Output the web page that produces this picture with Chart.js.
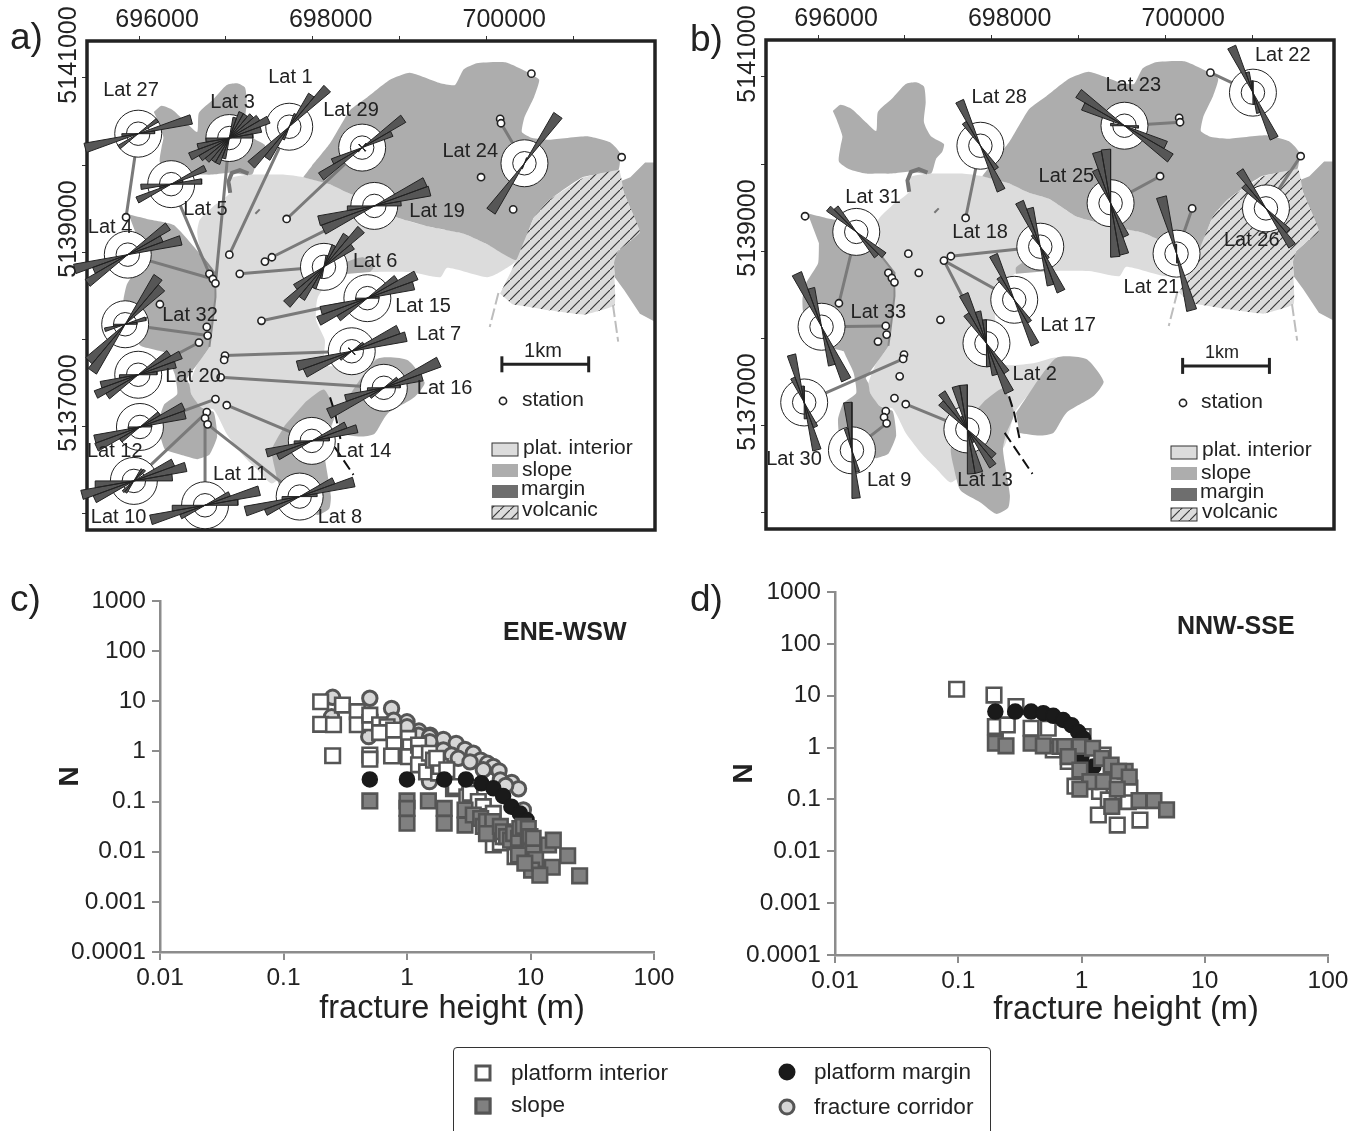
<!DOCTYPE html>
<html>
<head>
<meta charset="utf-8">
<title>fracture maps</title>
<script src="https://cdn.jsdelivr.net/npm/chart.js@4/dist/chart.umd.js"></script>
<style>
  body { margin: 0; background: #fff; width: 1365px; height: 1131px; overflow: hidden; position: relative;
    font-family: "Liberation Sans", Arial, sans-serif; color: #222; }
  canvas { position: absolute; }
  .txt { position: absolute; white-space: nowrap; line-height: 1; transform: translateY(-50%); }
  .panel { font-size: 37px; }
  .sub { font-size: 25px; font-weight: bold; }
  .xtitle { font-size: 32.5px; transform: translate(-50%, -50%); }
  #key { position: absolute; left: 453px; top: 1047px; width: 538px; height: 100px; border: 1px solid #333; border-radius: 4px; box-sizing: border-box; }
  .mk { position: absolute; box-sizing: border-box; width: 17px; height: 17px; border: 3px solid #555; transform: translate(-50%, -50%); }
  .keytxt { font-size: 22.6px; }
</style>
</head>
<body>
<canvas id="map-a" width="680" height="560" style="left:0;top:0"></canvas>
<canvas id="map-b" width="680" height="560" style="left:680px;top:0"></canvas>
<canvas id="plot-c" width="680" height="470" style="left:0;top:580px"></canvas>
<canvas id="plot-d" width="680" height="480" style="left:680px;top:570px"></canvas>

<div class="txt panel" style="left:10px;top:36px">a)</div>
<div class="txt panel" style="left:690px;top:38px">b)</div>
<div class="txt panel" style="left:10px;top:598px">c)</div>
<div class="txt panel" style="left:690px;top:598px">d)</div>
<div class="txt sub" style="left:503px;top:631px">ENE-WSW</div>
<div class="txt sub" style="left:1177px;top:625px">NNW-SSE</div>
<div class="txt xtitle" style="left:452px;top:1007px">fracture height (m)</div>
<div class="txt xtitle" style="left:1126px;top:1008px">fracture height (m)</div>

<div id="key"></div>
<div class="mk" style="left:483px;top:1073px;background:#fff"></div>
<div class="mk" style="left:483px;top:1106px;background:#808080"></div>
<div class="mk" style="left:787px;top:1072px;background:#1a1a1a;border-color:#1a1a1a;border-radius:50%"></div>
<div class="mk" style="left:787px;top:1107px;background:#d6d6d6;border-radius:50%"></div>
<div class="txt keytxt" style="left:511px;top:1073px">platform interior</div>
<div class="txt keytxt" style="left:511px;top:1105px">slope</div>
<div class="txt keytxt" style="left:814px;top:1072px">platform margin</div>
<div class="txt keytxt" style="left:814px;top:1107px">fracture corridor</div>

<script>
//map axes, km (labels are in metres)
const mapXMin = 695.40, mapXMax = 701.944, mapYMin = 5135.806, mapYMax = 5141.425;
const mapXTicks = [696, 697, 698, 699, 700, 701];
const mapXLabels = ['696000', '', '698000', '', '700000', ''];
const mapYTicks = [5136, 5137, 5138, 5139, 5140, 5141];
const mapYLabels = ['', '5137000', '', '5139000', '', '5141000'];

//map units [easting, northing]
const interiorArea = [[697.30,5139.89],[697.66,5139.89],[697.89,5139.86],[698.20,5139.78],[698.43,5139.67],[698.66,5139.60],[698.97,5139.40],[699.35,5139.29],[699.74,5139.21],[700.01,5139.09],[700.35,5138.91],[700.16,5138.77],[700.01,5138.71],[699.55,5138.82],[699.47,5138.71],[699.12,5138.77],[698.66,5138.77],[698.27,5138.74],[698.06,5138.48],[698.04,5138.22],[698.14,5137.99],[698.14,5137.70],[698.48,5137.71],[698.74,5137.77],[698.28,5137.17],[698.26,5137.14],[698.13,5136.73],[697.74,5136.50],[697.53,5136.34],[697.36,5136.50],[697.21,5136.65],[697.01,5136.91],[696.86,5137.19],[696.71,5137.22],[696.60,5137.37],[696.58,5137.48],[696.67,5137.71],[696.81,5137.91],[696.84,5138.14],[696.88,5138.48],[696.90,5138.71],[696.73,5138.94],[696.67,5139.22],[696.70,5139.37],[696.85,5139.52],[697.05,5139.68],[697.07,5139.85],[697.26,5139.89]];
const slopeNorthWest = [[696.17,5140.61],[696.26,5140.68],[696.39,5140.63],[696.55,5140.48],[696.67,5140.38],[696.69,5140.60],[696.85,5140.75],[697.01,5140.92],[697.13,5140.94],[697.22,5140.89],[697.24,5140.71],[697.22,5140.48],[697.30,5140.32],[697.45,5140.23],[697.43,5140.14],[697.36,5140.06],[697.30,5139.89],[697.05,5139.91],[696.85,5139.89],[696.70,5139.89],[696.55,5139.89],[696.36,5139.94],[696.24,5140.03],[696.26,5140.21],[696.28,5140.32],[696.21,5140.52]];
const slopeNorthEast = [[697.89,5139.86],[697.99,5139.99],[698.20,5140.25],[698.43,5140.63],[698.63,5140.78],[698.89,5140.98],[699.12,5141.06],[699.47,5140.94],[699.64,5140.92],[699.74,5141.10],[699.89,5141.17],[700.22,5141.18],[700.47,5141.07],[700.61,5140.98],[700.55,5140.78],[700.44,5140.55],[700.41,5140.38],[700.53,5140.31],[700.73,5140.29],[701.16,5140.33],[701.43,5140.26],[701.54,5140.14],[701.52,5139.94],[701.11,5139.86],[700.73,5139.60],[700.55,5139.40],[700.35,5138.91],[700.01,5139.09],[699.74,5139.21],[699.35,5139.29],[698.97,5139.40],[698.66,5139.60],[698.43,5139.67],[698.20,5139.78]];
const slopeWest = [[695.88,5139.43],[696.09,5139.38],[696.40,5139.31],[696.70,5138.98],[696.88,5138.75],[696.88,5138.48],[696.84,5138.14],[696.81,5137.91],[696.67,5137.71],[696.55,5137.54],[696.58,5137.48],[696.60,5137.37],[696.71,5137.22],[696.86,5137.16],[696.90,5136.88],[696.81,5136.67],[696.67,5136.62],[696.55,5136.65],[696.30,5136.73],[696.24,5136.91],[696.23,5137.07],[696.29,5137.25],[696.44,5137.37],[696.41,5137.60],[696.32,5137.79],[696.29,5137.85],[696.01,5137.93],[695.83,5138.29],[695.82,5138.45],[695.86,5138.63],[696.00,5138.86],[696.01,5139.09]];
const slopeSouth = [[697.92,5137.28],[698.13,5137.42],[698.26,5137.14],[698.17,5136.91],[698.13,5136.73],[698.17,5136.45],[698.21,5136.19],[698.19,5136.05],[698.05,5135.98],[697.87,5136.11],[697.64,5136.25],[697.56,5136.53],[697.53,5136.73],[697.68,5137.01]];
const slopeSouthEast = [[698.28,5137.14],[698.74,5137.77],[699.09,5137.76],[699.29,5137.50],[699.17,5137.33],[698.86,5137.14],[698.71,5136.91],[698.55,5136.88],[698.32,5136.91]];
const slopeEast = [[701.54,5139.81],[701.66,5139.86],[701.83,5140.03],[701.944,5140.03],[701.944,5138.20],[701.77,5138.29],[701.59,5138.56],[701.48,5138.71],[701.47,5138.91],[701.51,5139.00],[701.77,5139.23],[701.59,5139.67]];
const slopePatch = [[698.28,5138.74],[698.28,5138.81],[698.40,5138.89],[698.58,5138.94],[698.70,5138.82],[698.66,5138.77]];
const volcanicArea = [[700.16,5138.52],[700.35,5138.91],[700.55,5139.40],[700.73,5139.60],[701.13,5139.86],[701.53,5139.94],[701.59,5139.67],[701.77,5139.23],[701.51,5139.00],[701.47,5138.86],[701.48,5138.39],[701.13,5138.28],[700.73,5138.33],[700.30,5138.40]];
const marginHook = [[697.05,5139.68],[697.03,5139.81],[697.07,5139.91],[697.16,5139.94],[697.26,5139.90]];
const marginEdge = [[696.70,5138.98],[696.88,5138.75],[696.88,5138.48],[696.84,5138.14],[696.81,5137.91]];
const marginDash = [[697.34,5139.44],[697.39,5139.49]];
const greyDashWest = [[700.14,5138.53],[700.04,5138.14]];
const greyDashEast = [[701.46,5138.39],[701.52,5137.97]];
const faultNorth = [[698.20,5137.33],[698.26,5137.14],[698.32,5136.85]];
const faultSouth = [[698.15,5136.91],[698.47,5136.44]];
const scaleBarA = [[700.18,5137.71],[701.18,5137.71]];
const scaleBarB = [[700.20,5137.68],[701.20,5137.68]];

const stations = [[695.85,5139.40],[697.70,5139.38],[697.04,5138.97],[697.16,5138.75],[697.45,5138.89],[697.53,5138.94],[696.81,5138.75],[696.85,5138.69],[696.88,5138.64],[696.24,5138.40],[697.41,5138.21],[696.78,5138.14],[696.79,5138.04],[696.69,5137.96],[696.99,5137.81],[696.98,5137.76],[696.94,5137.56],[696.88,5137.31],[697.01,5137.24],[696.78,5137.16],[696.76,5137.09],[696.79,5137.02],[700.52,5141.05],[700.16,5140.53],[700.17,5140.48],[699.94,5139.86],[700.31,5139.49],[701.56,5140.09]];

//roses: name, easting, northing, station index, petals [azimuth, percent]
const rosesA = [
  ['Lat 27',695.99,5140.36,0,[[55,20],[75,47],[85,14]]],
  ['Lat 3',697.04,5140.31,8,[[15,18],[25,24],[35,24],[45,27],[55,30],[65,37],[75,28],[85,20]]],
  ['Lat 1',697.73,5140.44,2,[[25,12],[35,33],[45,46]]],
  ['Lat 5',696.37,5139.78,6,[[65,32],[75,10],[85,26]]],
  ['Lat 29',698.57,5140.20,1,[[45,5],[55,43],[65,28],[135,4]]],
  ['Lat 19',698.71,5139.53,5,[[65,48],[75,49],[85,23]]],
  ['Lat 6',698.13,5138.83,3,[[15,10],[25,20],[35,33],[45,45],[55,30]]],
  ['Lat 15',698.63,5138.47,10,[[55,30],[65,46],[75,41],[85,10]]],
  ['Lat 7',698.45,5137.86,14,[[55,12],[65,44],[75,48],[135,4]]],
  ['Lat 16',698.82,5137.44,16,[[55,14],[65,52],[75,34],[85,14]]],
  ['Lat 14',697.99,5136.83,18,[[65,32],[75,40],[85,15]]],
  ['Lat 8',697.85,5136.19,21,[[65,32],[75,48],[85,15]]],
  ['Lat 11',696.76,5136.09,20,[[65,23],[75,48],[85,28]]],
  ['Lat 10',695.94,5136.37,19,[[35,12],[45,13],[65,37],[75,46],[85,33]]],
  ['Lat 12',696.01,5136.99,17,[[55,20],[65,41],[75,40],[85,10]]],
  ['Lat 20',695.99,5137.59,13,[[55,32],[65,40],[75,33],[85,16]]],
  ['Lat 32',695.84,5138.17,12,[[35,49],[45,44],[75,18],[85,10]]],
  ['Lat 4',695.87,5138.97,7,[[55,42],[65,32],[75,47]]],
  ['Lat 24',700.44,5140.02,24,[[25,5],[35,50]]]
];
const rosesB = [
  ['Lat 28',697.87,5140.21,1,[[145,24],[155,42]]],
  ['Lat 31',696.44,5139.22,9,[[130,31],[140,27]]],
  ['Lat 33',696.04,5138.13,11,[[155,50],[165,34]]],
  ['Lat 30',695.84,5137.26,15,[[155,23],[165,42],[175,14]]],
  ['Lat 9',696.39,5136.71,21,[[165,19],[175,41]]],
  ['Lat 13',697.72,5136.95,18,[[135,32],[145,38],[155,12],[165,38],[175,38]]],
  ['Lat 2',697.94,5137.94,4,[[145,30],[155,46],[165,28],[175,20]]],
  ['Lat 17',698.26,5138.44,4,[[145,23],[155,42]]],
  ['Lat 18',698.56,5139.05,5,[[145,12],[155,42],[165,34]]],
  ['Lat 25',699.37,5139.55,25,[[155,31],[165,45],[175,46]]],
  ['Lat 21',700.13,5138.97,26,[[165,50],[175,8]]],
  ['Lat 23',699.53,5140.44,24,[[95,12],[115,39],[125,48]]],
  ['Lat 22',701.01,5140.82,22,[[155,43],[165,18],[175,10]]],
  ['Lat 26',701.16,5139.49,27,[[135,27],[145,39]]]
];
const kmPerPercent = 0.0135;
const ringPercents = [20, 10];
const mapKeyLabels = ['plat. interior', 'slope', 'margin', 'volcanic'];

//label placement, px from the rose centre
const labelOffsetA = {'Lat 27':[-35,-43],'Lat 3':[-19,-36],'Lat 1':[-21,-49],'Lat 5':[12,25],'Lat 29':[-39,-37],'Lat 19':[35,6],'Lat 6':[29,-5],'Lat 15':[28,8],'Lat 7':[65,-17],'Lat 16':[33,1],'Lat 14':[24,11],'Lat 8':[18,21],'Lat 11':[8,-31],'Lat 10':[-43,37],'Lat 12':[-53,25],'Lat 20':[27,2],'Lat 32':[37,-9],'Lat 4':[-40,-27],'Lat 24':[-82,-12]};
const labelOffsetB = {'Lat 28':[-9,-48],'Lat 31':[-11,-34],'Lat 33':[29,-14],'Lat 30':[-38,57],'Lat 9':[15,30],'Lat 13':[-10,51],'Lat 2':[26,31],'Lat 17':[26,26],'Lat 18':[-88,-14],'Lat 25':[-72,-27],'Lat 21':[-53,34],'Lat 23':[-19,-40],'Lat 22':[2,-37],'Lat 26':[-42,32]};

//log plots
const plotXTicks = [0.01, 0.1, 1, 10, 100];
const plotYTicks = [0.0001, 0.001, 0.01, 0.1, 1, 10, 100, 1000];

const corridorC = [[0.25,12],[0.5,11.5],[0.75,7.2],[1,3.9],[1.25,2.55],[1.54,2.1],[1.97,1.74],[2.5,1.45],[2.95,1.1],[3.44,0.92],[3.95,0.67],[4.48,0.58],[5,0.5],[5.56,0.41],[7.05,0.24],[8,0.18],[8.75,0.068],[0.245,4.9],[0.5,5.3],[0.49,1.97],[0.78,4.2],[1,3.1],[1.24,2.1],[1.52,1.97],[1.53,1.57],[1.97,1.07],[2.3,0.85],[2.6,0.73],[3.24,0.62],[4.15,0.43],[5.7,0.27],[6.3,0.21],[1.52,0.25]];
const interiorC = [[0.2,9.8],[0.2,3.47],[0.25,0.82],[0.254,3.4],[0.3,8.4],[0.396,6.2],[0.396,3.4],[0.5,0.85],[0.5,0.7],[0.5,3.75],[0.5,5.3],[0.6,3.4],[0.69,3.1],[0.6,2.37],[0.785,1.57],[0.75,0.81],[0.78,2.67],[1.03,1.82],[1.06,1.24],[1.03,0.785],[1.24,1.34],[1.27,0.92],[1.24,0.54],[1.52,0.92],[1.44,0.39],[1.64,0.67],[1.8,0.37],[1.86,0.5],[1.74,0.73],[2.1,0.43],[2.38,0.18],[2.46,0.2],[3.05,0.125],[3.24,0.146],[3.78,0.1],[4.15,0.079],[4.4,0.05],[5,0.058],[5,0.0136],[5.7,0.015],[6,0.02],[7.5,0.008]];
const marginC = [[0.5,0.277],[1,0.277],[2,0.277],[3,0.277],[4,0.231],[5,0.184],[6,0.129],[7,0.079],[8.2,0.058],[9.3,0.043]];
const slopeC = [[0.5,0.103],[1,0.103],[1,0.073],[1,0.037],[1.49,0.103],[2,0.073],[2,0.037],[2.95,0.068],[2.95,0.034],[3.44,0.054],[3.95,0.046],[4.15,0.032],[4.4,0.04],[4.95,0.04],[4.4,0.023],[5.7,0.032],[6,0.025],[6.4,0.02],[6.9,0.017],[7.3,0.023],[8,0.0126],[8,0.0185],[8.2,0.029],[8.75,0.032],[9.6,0.029],[9.6,0.0147],[9.9,0.02],[9.9,0.01],[10.5,0.0108],[10.5,0.0185],[14,0.0136],[15.3,0.017],[20,0.0083],[15,0.0049],[11,0.007],[10.2,0.0043],[11.9,0.0034],[25,0.0033],[8,0.0086],[9,0.0059]];

const interiorD = [[0.097,13.3],[0.195,10.3],[0.294,6.2],[0.2,2.54],[0.25,2.73],[0.39,2.36],[0.537,2.36],[1.03,1.63],[0.59,0.9],[0.78,0.54],[0.885,0.18],[1.5,0.72],[1.4,0.142],[1.37,0.05],[1.95,0.032],[2.98,0.04],[2.4,0.091],[1.65,0.098],[2.47,0.165]];
const marginD = [[0.2,4.95],[0.29,4.95],[0.39,4.95],[0.49,4.6],[0.59,4.1],[0.71,3.4],[0.83,2.7],[0.94,2],[1.03,1.5],[1,0.67],[1.25,0.43]];
const slopeD = [[0.2,1.21],[0.244,1.08],[0.39,1.21],[0.49,1.08],[0.67,1.05],[0.73,1.05],[0.97,1.05],[1.23,0.97],[0.78,0.67],[1.46,0.62],[1.74,0.46],[0.97,0.37],[2.26,0.35],[2,0.35],[2.44,0.27],[1.17,0.22],[1.5,0.22],[0.97,0.158],[1.95,0.158],[2.93,0.095],[3.87,0.095],[4.9,0.063],[1.76,0.073]];

Chart.defaults.font.family = '"Liberation Sans", Arial, sans-serif';
Chart.defaults.color = '#222';

const hatch = makeHatch();

function makeHatch() {
  let tile = document.createElement('canvas');
  tile.width = 10;
  tile.height = 10;
  let c = tile.getContext('2d');
  c.fillStyle = '#dcdcdc';
  c.fillRect(0, 0, 10, 10);
  c.strokeStyle = '#3a3a3a';
  c.lineWidth = 1.2;
  c.beginPath();
  c.moveTo(-1, 11);
  c.lineTo(11, -1);
  c.stroke();
  return c.createPattern(tile, 'repeat');
}

function toPoints(list) {
  return list.map(p => ({x: p[0], y: p[1]}));
}

function area(list, color, tension) {
  return {
    data: toPoints(list), showLine: true, fill: 'shape', backgroundColor: color,
    borderWidth: 0, borderColor: 'rgba(0,0,0,0)', pointRadius: 0, tension: tension
  };
}

function line(list, color, width, dash) {
  return {
    data: toPoints(list), showLine: true, fill: false, borderColor: color,
    borderWidth: width, borderDash: dash || [], pointRadius: 0
  };
}

function roseOutline(rose) {
  let wedges = [];
  rose[4].forEach(p => {
    wedges.push([p[0], p[1]]);
    wedges.push([p[0] + 180, p[1]]);
  });
  wedges.sort((a, b) => a[0] - b[0]);
  let centre = {x: rose[1], y: rose[2]};
  let pts = [centre];
  wedges.forEach(w => {
    let r = w[1] * kmPerPercent;
    [w[0] - 5, w[0] + 5].forEach(az => {
      let rad = az * Math.PI / 180;
      pts.push({x: rose[1] + r * Math.sin(rad), y: rose[2] + r * Math.cos(rad)});
    });
    pts.push(centre);
  });
  return {
    data: pts, showLine: true, fill: false, roseFill: '#565656', borderColor: '#222',
    borderWidth: 1, pointRadius: 0, clip: false
  };
}

function mapDatasets(roses, scaleBar) {
  let links = [];
  roses.forEach(r => {
    links.push({x: r[1], y: r[2]});
    links.push({x: stations[r[3]][0], y: stations[r[3]][1]});
    links.push({x: NaN, y: NaN});
  });
  let centres = roses.map(r => ({x: r[1], y: r[2]}));
  let sets = [
    area(interiorArea, '#dcdcdc', 0.2),
    area(slopeNorthWest, '#adadad', 0.2),
    area(slopeNorthEast, '#adadad', 0.15),
    area(slopeWest, '#adadad', 0.15),
    area(slopeSouth, '#adadad', 0.2),
    area(slopeSouthEast, '#adadad', 0.2),
    area(slopeEast, '#adadad', 0),
    area(slopePatch, '#adadad', 0.2),
    area(volcanicArea, hatch, 0.1),
    line(marginHook, '#757575', 4),
    line(marginEdge, '#8a8a8a', 2),
    line(marginDash, '#757575', 2),
    line(greyDashWest, '#bdbdbd', 2, [12, 4]),
    line(greyDashEast, '#bdbdbd', 2, [12, 4]),
    line(faultNorth, '#111', 2, [11, 5]),
    line(faultSouth, '#111', 2, [11, 5]),
    {data: links, showLine: true, borderColor: '#7a7a7a', borderWidth: 3, pointRadius: 0, spanGaps: false},
    {data: toPoints(stations), pointRadius: 3.6, pointBackgroundColor: '#fff', pointBorderColor: '#222', pointBorderWidth: 1.6},
    {data: toPoints(scaleBar), showLine: true, borderColor: '#222', borderWidth: 3, pointStyle: 'line',
      pointRadius: 8, pointRotation: 90, pointBorderColor: '#222', pointBorderWidth: 3, roseLayer: true},
    {data: centres, pointRadius: ringPercents[0] * kmPerPercent * 87, pointBackgroundColor: '#fff',
      pointBorderColor: '#222', pointBorderWidth: 1, clip: false},
    {data: centres, pointRadius: ringPercents[1] * kmPerPercent * 87, pointBackgroundColor: 'rgba(0,0,0,0)',
      pointBorderColor: '#222', pointBorderWidth: 1, clip: false}
  ];
  roses.forEach(r => sets.push(roseOutline(r)));
  sets.forEach((s, i) => { s.order = -i; });
  return sets;
}

//frame goes under the roses, petals cross it in the original
const mapPlugin = {
  id: 'mapExtras',
  beforeDatasetDraw(chart, args) {
    let ds = chart.data.datasets[args.index];
    let ctx = chart.ctx;
    if (ds.roseLayer) {
      let a = chart.chartArea;
      ctx.save();
      ctx.strokeStyle = '#222';
      ctx.lineWidth = 3.5;
      ctx.strokeRect(a.left, a.top, a.right - a.left, a.bottom - a.top);
      ctx.restore();
    }
    if (ds.roseFill) {
      ctx.save();
      ctx.beginPath();
      args.meta.dataset.path(ctx);
      ctx.fillStyle = ds.roseFill;
      ctx.fill();
      ctx.restore();
    }
  },
  afterDatasetsDraw(chart, args, opts) {
    let ctx = chart.ctx;
    ctx.save();
    ctx.fillStyle = '#222';
    ctx.textBaseline = 'middle';
    ctx.font = '20px "Liberation Sans"';
    opts.roses.forEach(r => {
      let off = opts.offsets[r[0]];
      ctx.fillText(r[0], chart.scales.x.getPixelForValue(r[1]) + off[0], chart.scales.y.getPixelForValue(r[2]) + off[1]);
    });
    let k = opts.key;
    ctx.textAlign = 'center';
    ctx.font = k.kmFont + 'px "Liberation Sans"';
    ctx.fillText('1km', k.km[0], k.km[1]);
    ctx.textAlign = 'left';
    ctx.font = '21px "Liberation Sans"';
    ctx.fillText('station', k.stationText[0], k.stationText[1]);
    ctx.beginPath();
    ctx.arc(k.station[0], k.station[1], 3.6, 0, Math.PI * 2);
    ctx.fillStyle = '#fff';
    ctx.fill();
    ctx.strokeStyle = '#222';
    ctx.lineWidth = 1.6;
    ctx.stroke();
    const fills = ['#dcdcdc', '#adadad', '#6e6e6e', hatch];
    mapKeyLabels.forEach((label, i) => {
      ctx.fillStyle = fills[i];
      ctx.fillRect(k.boxX, k.boxY[i], 26, 13);
      if (i === 0 || i === 3) {
        ctx.strokeStyle = '#333';
        ctx.lineWidth = 1;
        ctx.strokeRect(k.boxX, k.boxY[i], 26, 13);
      }
      ctx.fillStyle = '#222';
      ctx.fillText(label, k.textX[i], k.textY[i]);
    });
    ctx.restore();
  }
};

function createMap(id, roses, offsets, scaleBar, key, box) {
  new Chart(document.getElementById(id), {
    type: 'scatter',
    data: {datasets: mapDatasets(roses, scaleBar)},
    plugins: [mapPlugin],
    options: {
      responsive: false,
      animation: false,
      events: [],
      layout: {padding: {left: 0, top: 0, right: box.right, bottom: box.bottom}},
      plugins: {
        legend: {display: false},
        tooltip: {enabled: false},
        mapExtras: {roses: roses, offsets: offsets, key: key}
      },
      scales: {
        x: {
          type: 'linear',
          position: 'top',
          min: mapXMin,
          max: mapXMax,
          afterBuildTicks: s => { s.ticks = mapXTicks.map(v => ({value: v})); },
          afterFit: s => { s.height = box.top; },
          grid: {drawOnChartArea: false, tickLength: 5, color: '#333', lineWidth: 1},
          border: {display: false},
          ticks: {
            callback: (v, i) => mapXLabels[i],
            autoSkip: false,
            maxRotation: 0,
            labelOffset: 18,
            padding: 1,
            font: {size: 25},
            color: '#222'
          }
        },
        y: {
          type: 'linear',
          position: 'left',
          min: mapYMin,
          max: mapYMax,
          afterBuildTicks: s => { s.ticks = mapYTicks.map(v => ({value: v})); },
          afterFit: s => { s.width = box.left; },
          grid: {drawOnChartArea: false, tickLength: 5, color: '#333', lineWidth: 1},
          border: {display: false},
          ticks: {
            callback: (v, i) => mapYLabels[i],
            autoSkip: false,
            minRotation: 90,
            maxRotation: 90,
            crossAlign: 'center',
            labelOffset: -23,
            padding: -36,
            font: {size: 25},
            color: '#222'
          }
        }
      }
    }
  });
}

function plotSet(list, style, fill, stroke, radius, width) {
  return {
    data: toPoints(list), pointStyle: style, pointRadius: radius, pointBackgroundColor: fill,
    pointBorderColor: stroke, pointBorderWidth: width
  };
}

function createPlot(id, sets, box) {
  sets.forEach((s, i) => { s.order = -i; });
  new Chart(document.getElementById(id), {
    type: 'scatter',
    data: {datasets: sets},
    options: {
      responsive: false,
      animation: false,
      events: [],
      layout: {padding: {left: box.left, top: box.top, right: box.right, bottom: box.bottom}},
      plugins: {legend: {display: false}, tooltip: {enabled: false}},
      scales: {
        x: {
          type: 'logarithmic',
          min: 0.01,
          max: 100,
          afterBuildTicks: s => { s.ticks = plotXTicks.map(v => ({value: v})); },
          afterFit: s => { s.height = box.xHeight; },
          grid: {drawOnChartArea: false, tickLength: 8, color: '#8c8c8c', lineWidth: 2},
          border: {color: '#8c8c8c', width: 2.5},
          ticks: {
            callback: v => String(v),
            autoSkip: false,
            maxRotation: 0,
            padding: 4,
            font: {size: 24.5},
            color: '#222'
          }
        },
        y: {
          type: 'logarithmic',
          min: 0.0001,
          max: 1000,
          afterBuildTicks: s => { s.ticks = plotYTicks.map(v => ({value: v})); },
          afterFit: s => { s.width = box.yWidth; },
          grid: {drawOnChartArea: false, tickLength: 8, color: '#8c8c8c', lineWidth: 2},
          border: {color: '#8c8c8c', width: 2.5},
          ticks: {
            callback: v => String(v),
            autoSkip: false,
            padding: 6,
            font: {size: 24.5},
            color: '#222'
          },
          title: {display: true, text: 'N', font: {size: 28, weight: 'bold'}, color: '#222'}
        }
      }
    }
  });
}

createMap('map-a', rosesA, labelOffsetA, scaleBarA, {
  km: [543, 351], kmFont: 20, station: [503, 401], stationText: [522, 400], boxX: 492,
  boxY: [443, 464, 485, 506], textX: [523, 522, 521, 522], textY: [448, 470, 489, 510]
}, {left: 87, top: 41, right: 25, bottom: 30});

createMap('map-b', rosesB, labelOffsetB, scaleBarB, {
  km: [542, 353], kmFont: 18, station: [503, 403], stationText: [521, 402], boxX: 491,
  boxY: [446, 467, 488, 508], textX: [522, 521, 520, 522], textY: [450, 473, 492, 512]
}, {left: 86, top: 40, right: 26, bottom: 31});

createPlot('plot-c', [
  plotSet(corridorC, 'circle', '#d6d6d6', '#555', 7.2, 3),
  plotSet(interiorC, 'rect', '#fff', '#555', 10.3, 2.6),
  plotSet(marginC, 'circle', '#1a1a1a', '#1a1a1a', 7.5, 1.5),
  plotSet(slopeC, 'rect', '#808080', '#555', 10.3, 2.6)
], {left: 49, top: 21, right: 26, bottom: 20, xHeight: 78, yWidth: 111});

createPlot('plot-d', [
  plotSet(interiorD, 'rect', '#fff', '#555', 10.3, 2.6),
  plotSet(marginD, 'circle', '#1a1a1a', '#1a1a1a', 7.5, 1.5),
  plotSet(slopeD, 'rect', '#808080', '#555', 10.3, 2.6)
], {left: 43, top: 22, right: 32, bottom: 19, xHeight: 76, yWidth: 112});
</script>
</body>
</html>
